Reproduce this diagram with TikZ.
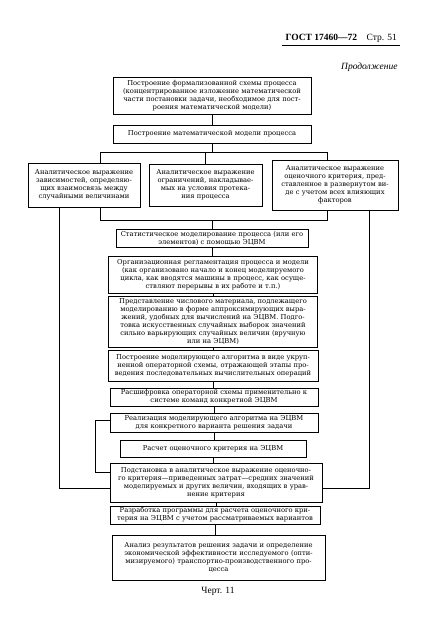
\documentclass[tikz,border=0pt]{standalone}
\usepackage{fontspec}
\setmainfont{DejaVu Serif}
\newfontfamily\hdrfont{Liberation Serif}
\begin{document}
\begin{tikzpicture}[x=1pt,y=-1pt,
  box/.style={draw, line width=0.8pt, inner sep=0pt, align=center,
    font=\fontsize{6.75}{8}\selectfont},
  conn/.style={line width=0.55pt}]
\useasboundingbox[fill=white] (0,0) rectangle (426,633);
% header
\node[font=\hdrfont\bfseries\fontsize{9.5}{11}\selectfont, anchor=base west] (hdr) at (282,40) {ГОСТ 17460—72\quad\mdseries Стр. 51};
\draw[line width=0.6pt] (hdr.south west) -- (hdr.south east);
\node[font=\hdrfont\itshape\fontsize{9.5}{11}\selectfont, anchor=base east] (cont) at (401,69) {Продолжение};
% boxes
\node[box, minimum width=198, minimum height=37, text width=196] (b1) at (212,95.5)
 {Построение формализованной схемы процесса\\(концентрированное изложение математической\\части постановки задачи, необходимое для пост-\\роения математической модели)};
\node[box, minimum width=198, minimum height=18, text width=194] (b2) at (212,134)
 {Построение математической модели процесса};
\node[box, minimum width=112, minimum height=44, text width=110] (A1) at (84,185)
 {Аналитическое выражение\\зависимостей, определяю-\\щих взаимосвязь между\\случайными величинами};
\node[box, minimum width=113, minimum height=42, text width=111] (A2) at (205.5,185)
 {Аналитическое выражение\\ограничений, накладывае-\\мых на условия протека-\\ния процесса};
\node[box, minimum width=126, minimum height=50, text width=124] (A3) at (335,185)
 {Аналитическое выражение\\оценочного критерия, пред-\\ставленное в развернутом ви-\\де с учетом всех влияющих\\факторов};
\node[box, minimum width=192, minimum height=18, text width=190] (b3) at (212,238)
 {Статистическое моделирование процесса (или его\\элементов) с помощью ЭЦВМ};
\node[box, minimum width=209, minimum height=37, text width=207] (b4) at (213,274.5)
 {Организационная регламентация процесса и модели\\(как организовано начало и конец моделируемого\\цикла, как вводятся машины в процесс, как осуще-\\ствляют перерывы в их работе и т.п.)};
\node[box, minimum width=209, minimum height=51, text width=207] (b5) at (213,322)
 {Представление числового материала, подлежащего\\моделированию в форме аппроксимирующих выра-\\жений, удобных для вычислений на ЭЦВМ. Подго-\\товка искусственных случайных выборок значений\\сильно варьирующих случайных величин (вручную\\или на ЭЦВМ)};
\node[box, minimum width=210, minimum height=31, text width=208] (b6) at (213,365.5)
 {Построение моделирующего алгоритма в виде укруп-\\ненной операторной схемы, отражающей этапы про-\\ведения последовательных вычислительных операций};
\node[box, minimum width=208, minimum height=18, text width=206] (b7) at (214,397)
 {Расшифровка операторной схемы применительно к\\системе команд конкретной ЭЦВМ};
\node[box, minimum width=208, minimum height=19, text width=206] (b8) at (214,422.5)
 {Реализация моделирующего алгоритма на ЭЦВМ\\для конкретного варианта решения задачи};
\node[box, minimum width=186, minimum height=17, text width=184] (b9) at (213,448.5)
 {Расчет оценочного критерия на ЭЦВМ};
\node[box, minimum width=212, minimum height=39, text width=210] (b10) at (216,482.5)
 {Подстановка в аналитическое выражение оценочно-\\го критерия—приведенных затрат—средних значений\\моделируемых и других величин, входящих в урав-\\нение критерия};
\node[box, minimum width=210, minimum height=18, text width=208] (b11) at (215,515)
 {Разработка программы для расчета оценочного кри-\\терия на ЭЦВМ с учетом рассматриваемых вариантов};
\node[box, minimum width=213, minimum height=45, text width=211] (b12) at (218.5,557.5)
 {Анализ результатов решения задачи и определение\\экономической эффективности исследуемого (опти-\\мизируемого) транспортно-производственного про-\\цесса};
\node[font=\hdrfont\fontsize{9.5}{11}\selectfont] (cap) at (218,591) {Черт. 11};
% connectors
\coordinate (tL) at (100,152); \coordinate (tR) at (327,152);
\coordinate (mL) at (100,220); \coordinate (mR) at (327,220);
\coordinate (oL) at (59,488);  \coordinate (oR) at (369,488);
\coordinate (iA) at (95,420);  \coordinate (iB) at (95,472);
\draw[conn] (b1.south) -- (b2.north);
\draw[conn] (b2.south) -- (b2.south |- tL);
\draw[conn] (tL |- A1.north) -- (tL) -- (tR) -- (tR |- A3.north);
\draw[conn] (A2.north) -- (A2.north |- tL);
\draw[conn] (mL |- A1.south) -- (mL) -- (mR) -- (mR |- A3.south);
\draw[conn] (b3.north) -- (b3.north |- mL);
\draw[conn] (oL |- A1.south) -- (oL) -- (oL -| b10.west);
\draw[conn] (oR |- A3.south) -- (oR) -- (oR -| b10.east);
\draw[conn] (iA -| b8.west) -- (iA) -- (iB) -- (iB -| b10.west);
\draw[conn] (b3.south) -- (b3.south |- b4.north);
\draw[conn] (b4.south) -- (b4.south |- b5.north);
\draw[conn] (b5.south) -- (b5.south |- b6.north);
\draw[conn] (b6.south) -- (b6.south |- b7.north);
\draw[conn] (b7.south) -- (b7.south |- b8.north);
\draw[conn] (b8.south) -- (b8.south |- b9.north);
\draw[conn] (b9.south) -- (b9.south |- b10.north);
\draw[conn] (b10.south) -- (b10.south |- b11.north);
\draw[conn] (b11.south) -- (b11.south |- b12.north);
\end{tikzpicture}
\end{document}
